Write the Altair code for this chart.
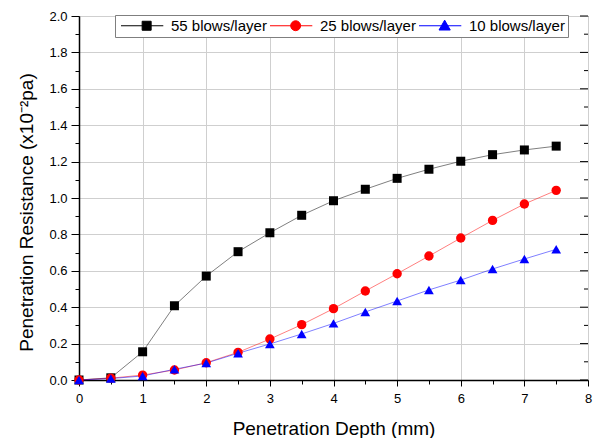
import altair as alt
import pandas as pd

# ---------------- data ----------------
depth = [0, 0.5, 1, 1.5, 2, 2.5, 3, 3.5, 4, 4.5, 5, 5.5, 6, 6.5, 7, 7.5]
blows55 = [0.0, 0.012, 0.155, 0.408, 0.571, 0.705, 0.809, 0.905, 0.985, 1.048,
           1.108, 1.158, 1.202, 1.238, 1.264, 1.285]
blows25 = [0.0, 0.010, 0.027, 0.055, 0.095, 0.152, 0.225, 0.304, 0.392, 0.489,
           0.584, 0.681, 0.780, 0.877, 0.967, 1.042]
blows10 = [0.0, 0.008, 0.022, 0.059, 0.093, 0.147, 0.198, 0.253, 0.311, 0.374,
           0.434, 0.495, 0.549, 0.610, 0.665, 0.718]
series_names = ["55 blows/layer", "25 blows/layer", "10 blows/layer"]
series_colors = ["#000000", "#ff0000", "#0000ff"]
x_ticks = [i * 0.5 for i in range(17)]          # 0 .. 8, minor every 0.5
y_ticks = [round(i * 0.1, 1) for i in range(21)]  # 0 .. 2, minor every 0.1

# ---------------- layout / style ----------------
W, H = 509, 364
FONT = "Liberation Sans"
point_shapes = ["square", "circle", "triangle-up"]
point_sizes = [81, 95, 115]
# legend symbols: a short line with the marker in its middle (path starts at left end)
legend_paths = [
    "M-1,0H8.4M3.7,-1H5.7V1H3.7Z",
    "M-1,0H8.4M3.6,0A1.1,1.1,0,1,1,5.8,0A1.1,1.1,0,1,1,3.6,0Z",
    "M-1,0H8.4M4.7,-1.25L5.95,0.95H3.45Z",
]

rows = []
for name, vals in zip(series_names, [blows55, blows25, blows10]):
    for d, v in zip(depth, vals):
        rows.append({"series": name, "depth": d, "value": v})
df = pd.DataFrame(rows)

rt = pd.DataFrame({"v": y_ticks,
                   "major": [abs(v * 5 - round(v * 5)) < 1e-6 for v in y_ticks]})

xscale = alt.Scale(domain=[0, 8], nice=False, zero=False)
yscale = alt.Scale(domain=[0, 2], nice=False)

ymaj = "abs(datum.value*5 - round(datum.value*5)) < 0.001"
xmaj = "abs(datum.value - round(datum.value)) < 0.001"

x_axis = alt.Axis(
    values=x_ticks, title="Penetration Depth (mm)",
    labelExpr=f"{xmaj} ? format(datum.value, 'd') : ''",
    tickSize={"condition": {"test": xmaj, "value": 6}, "value": 4},
    gridOpacity={"condition": {"test": xmaj, "value": 1}, "value": 0},
    labelOverlap=False, labelFlush=False, labelPadding=6,
    titleY=54, titleBaseline="alphabetic",
)
y_axis = alt.Axis(
    values=y_ticks, title="Penetration Resistance (x10⁻²pa)",
    labelExpr=f"{ymaj} ? format(datum.value, '.1f') : ''",
    tickSize={"condition": {"test": ymaj, "value": 8}, "value": 4},
    gridOpacity={"condition": {"test": ymaj, "value": 1}, "value": 0},
    labelOverlap=False, labelFlush=False, labelPadding=4,
    titleX=-53, titleY=196, titleBaseline="middle", titleAngle=270,
)

X = alt.X("depth:Q", scale=xscale, axis=x_axis)
Y = alt.Y("value:Q", scale=yscale, axis=y_axis)
YR = alt.Y("v:Q", scale=yscale, axis=y_axis)

base = alt.Chart(df)

lines = base.mark_line(strokeWidth=1, opacity=0.5).encode(
    x=X, y=Y,
    color=alt.Color("series:N", scale=alt.Scale(domain=series_names, range=series_colors), legend=None),
    detail="series:N",
)

points = base.mark_point(filled=True, opacity=1).encode(
    x=X, y=Y,
    color=alt.Color("series:N", scale=alt.Scale(domain=series_names, range=series_colors), legend=None),
    shape=alt.Shape("series:N", scale=alt.Scale(domain=series_names, range=point_shapes), legend=None),
    size=alt.Size("series:N", scale=alt.Scale(domain=series_names, range=point_sizes), legend=None),
)

leg = alt.Legend(
    orient="none", legendX=36, legendY=-1, direction="horizontal", title=None,
    fillColor="white", strokeColor="#7f7f7f", padding=3,
    labelFont=FONT, labelFontSize=15, labelColor="black", labelOffset=38,
    symbolSize=81, symbolStrokeWidth=1, symbolOpacity=1, columnPadding=-6,
)

legend_layer = base.transform_filter("false").mark_point(filled=True, opacity=1, strokeWidth=1).encode(
    x=X, y=Y,
    color=alt.Color("series:N", scale=alt.Scale(domain=series_names, range=series_colors), legend=leg),
    stroke=alt.Stroke("series:N", scale=alt.Scale(domain=series_names, range=series_colors), legend=leg),
    shape=alt.Shape("series:N", scale=alt.Scale(domain=series_names, range=legend_paths), legend=leg),
)

right_major = alt.Chart(rt).transform_filter("datum.major").mark_rule(color="black", strokeWidth=1).encode(
    y=YR, x=alt.value(W), x2=alt.value(W - 8),
)
right_minor = alt.Chart(rt).transform_filter("!datum.major").mark_rule(color="black", strokeWidth=1).encode(
    y=YR, x=alt.value(W), x2=alt.value(W - 4),
)

chart = alt.layer(lines, right_major, right_minor, points, legend_layer).resolve_scale(
    color="independent", shape="independent", stroke="independent", size="independent"
).properties(
    width=W, height=H,
    autosize=alt.AutoSizeParams(type="none"),
    padding={"left": 79, "top": 16, "right": 10, "bottom": 58},
    background="white",
).configure_view(
    stroke="black", strokeWidth=1
).configure_axis(
    labelFont=FONT, labelFontSize=13, labelColor="black",
    titleFont=FONT, titleFontSize=19, titleFontWeight="normal", titleColor="black",
    domainColor="black", domainWidth=1.5, tickColor="black", tickWidth=1,
    gridColor="#cfcfcf", gridWidth=1,
)

chart.save("out.html", embed_options={"renderer": "svg", "actions": False})
